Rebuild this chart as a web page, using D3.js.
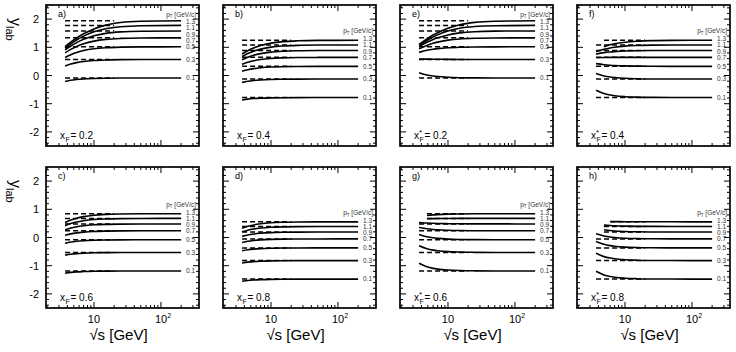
<!DOCTYPE html>
<html><head><meta charset="utf-8">
<script src="https://cdn.jsdelivr.net/npm/d3@7"></script>
<style>
body{margin:0;background:#fff}
svg{display:block}
text{font-family:"Liberation Sans",Arial,Helvetica,sans-serif}
</style>
</head><body>
<svg id="c" width="736" height="352"></svg>
<script>
// ---------------- data ----------------
const ptValues = [0.1, 0.3, 0.5, 0.7, 0.9, 1.1, 1.3];
const ptLabels = ["0.1", "0.3", "0.5", "0.7", "0.9", "1.1", "1.3"];
const sqrtS = [3.7, 4.5, 5.5, 7, 10, 15, 25, 50, 200];       // panels a-d
const sqrtSStar = [3.7, 4.85, 6, 7, 10, 15, 25, 50, 200];   // panels e-h
const dashEnd = 20;
const xTickLabels = ["10", "10²"];
const yTickLabels = ["-2", "-1", "0", "1", "2"];

// y_lab vs sqrt(s), one row per pT (0.1 ... 1.3)
const yLabA = [
  [-0.210, -0.169, -0.143, -0.122, -0.105, -0.096, -0.091, -0.089, -0.089],
  [0.338, 0.407, 0.457, 0.497, 0.532, 0.552, 0.562, 0.566, 0.567],
  [0.638, 0.738, 0.816, 0.884, 0.948, 0.985, 1.006, 1.015, 1.017],
  [0.803, 0.927, 1.029, 1.124, 1.219, 1.280, 1.315, 1.331, 1.336],
  [0.905, 1.046, 1.166, 1.283, 1.409, 1.495, 1.547, 1.571, 1.579],
  [0.973, 1.126, 1.261, 1.396, 1.548, 1.658, 1.729, 1.764, 1.776],
  [1.021, 1.184, 1.329, 1.479, 1.653, 1.786, 1.878, 1.924, 1.940]
];
const yLabB = [
  [-0.867, -0.837, -0.818, -0.804, -0.793, -0.787, -0.783, -0.782, -0.782],
  [-0.244, -0.204, -0.178, -0.158, -0.141, -0.133, -0.128, -0.126, -0.126],
  [0.148, 0.204, 0.243, 0.273, 0.299, 0.313, 0.321, 0.324, 0.325],
  [0.394, 0.467, 0.521, 0.565, 0.604, 0.625, 0.637, 0.641, 0.643],
  [0.558, 0.649, 0.718, 0.776, 0.830, 0.861, 0.877, 0.884, 0.887],
  [0.675, 0.780, 0.863, 0.936, 1.005, 1.047, 1.070, 1.080, 1.084],
  [0.761, 0.879, 0.974, 1.061, 1.147, 1.200, 1.230, 1.244, 1.249]
];
const yLabC = [
  [-1.265, -1.238, -1.220, -1.208, -1.197, -1.192, -1.189, -1.188, -1.187],
  [-0.624, -0.592, -0.571, -0.556, -0.543, -0.537, -0.533, -0.532, -0.531],
  [-0.203, -0.162, -0.135, -0.114, -0.097, -0.088, -0.083, -0.082, -0.081],
  [0.076, 0.128, 0.164, 0.191, 0.215, 0.227, 0.234, 0.237, 0.238],
  [0.273, 0.337, 0.382, 0.419, 0.450, 0.467, 0.476, 0.480, 0.481],
  [0.419, 0.495, 0.550, 0.596, 0.637, 0.659, 0.671, 0.676, 0.678],
  [0.530, 0.618, 0.683, 0.739, 0.790, 0.819, 0.834, 0.841, 0.843]
];
const yLabD = [
  [-1.550, -1.524, -1.507, -1.494, -1.484, -1.479, -1.476, -1.475, -1.475],
  [-0.903, -0.874, -0.855, -0.841, -0.829, -0.824, -0.821, -0.819, -0.819],
  [-0.470, -0.435, -0.413, -0.396, -0.382, -0.374, -0.371, -0.369, -0.369],
  [-0.175, -0.134, -0.106, -0.085, -0.067, -0.057, -0.053, -0.051, -0.050],
  [0.039, 0.089, 0.123, 0.150, 0.172, 0.184, 0.190, 0.193, 0.194],
  [0.201, 0.260, 0.302, 0.335, 0.363, 0.378, 0.386, 0.389, 0.390],
  [0.329, 0.397, 0.446, 0.486, 0.521, 0.540, 0.550, 0.554, 0.555]
];
const yLabE = [
  [0.100, 0.020, -0.019, -0.038, -0.064, -0.078, -0.085, -0.088, -0.089],
  [0.581, 0.580, 0.578, 0.576, 0.572, 0.569, 0.568, 0.568, 0.567],
  [0.820, 0.893, 0.932, 0.953, 0.984, 1.002, 1.012, 1.016, 1.018],
  [0.945, 1.068, 1.141, 1.183, 1.253, 1.297, 1.322, 1.332, 1.336],
  [1.020, 1.177, 1.275, 1.335, 1.439, 1.510, 1.553, 1.573, 1.580],
  [1.069, 1.249, 1.367, 1.441, 1.575, 1.673, 1.736, 1.766, 1.777],
  [1.104, 1.301, 1.434, 1.518, 1.678, 1.800, 1.884, 1.926, 1.942]
];
const yLabF = [
  [-0.524, -0.642, -0.693, -0.718, -0.751, -0.768, -0.777, -0.781, -0.782],
  [0.070, -0.015, -0.054, -0.073, -0.100, -0.114, -0.122, -0.125, -0.126],
  [0.420, 0.384, 0.365, 0.355, 0.340, 0.331, 0.327, 0.325, 0.325],
  [0.627, 0.638, 0.641, 0.642, 0.643, 0.643, 0.643, 0.643, 0.643],
  [0.758, 0.810, 0.835, 0.848, 0.868, 0.878, 0.884, 0.886, 0.887],
  [0.849, 0.932, 0.978, 1.003, 1.042, 1.064, 1.077, 1.082, 1.084],
  [null, 1.023, 1.087, 1.123, 1.181, 1.217, 1.237, 1.245, 1.249]
];
const yLabG = [
  [-0.915, -1.041, -1.095, -1.121, -1.155, -1.173, -1.182, -1.186, -1.187],
  [-0.290, -0.398, -0.447, -0.470, -0.502, -0.518, -0.526, -0.530, -0.531],
  [0.107, 0.027, -0.011, -0.030, -0.056, -0.070, -0.077, -0.080, -0.081],
  [0.357, 0.311, 0.286, 0.273, 0.256, 0.246, 0.241, 0.238, 0.238],
  [0.526, 0.513, 0.504, 0.498, 0.490, 0.485, 0.483, 0.482, 0.481],
  [null, 0.664, 0.670, 0.672, 0.676, 0.677, 0.678, 0.678, 0.678],
  [null, 0.780, 0.802, 0.812, 0.828, 0.836, 0.841, 0.842, 0.843]
];
const yLabH = [
  [-1.198, -1.326, -1.381, -1.408, -1.443, -1.461, -1.470, -1.474, -1.475],
  [-0.559, -0.678, -0.730, -0.755, -0.788, -0.805, -0.814, -0.818, -0.819],
  [-0.142, -0.242, -0.288, -0.310, -0.340, -0.356, -0.364, -0.367, -0.369],
  [0.132, 0.055, 0.018, 0.000, -0.026, -0.039, -0.046, -0.049, -0.050],
  [null, 0.273, 0.246, 0.232, 0.213, 0.202, 0.197, 0.195, 0.194],
  [null, 0.439, 0.424, 0.415, 0.403, 0.396, 0.393, 0.391, 0.390],
  [null, null, 0.567, 0.564, 0.560, 0.558, 0.556, 0.556, 0.555]
];
// asymptotic (dashed) levels per x_F, one per pT
const asym02 = [-0.089, 0.567, 1.018, 1.336, 1.580, 1.777, 1.942];
const asym04 = [-0.782, -0.126, 0.325, 0.643, 0.887, 1.084, 1.249];
const asym06 = [-1.187, -0.531, -0.081, 0.238, 0.481, 0.678, 0.843];
const asym08 = [-1.475, -0.819, -0.369, -0.050, 0.194, 0.390, 0.555];

const panels = [
  {id: "a)", col: 0, row: 0, xf: "0.2", star: false, grid: sqrtS, ys: yLabA, asym: asym02},
  {id: "b)", col: 1, row: 0, xf: "0.4", star: false, grid: sqrtS, ys: yLabB, asym: asym04},
  {id: "c)", col: 0, row: 1, xf: "0.6", star: false, grid: sqrtS, ys: yLabC, asym: asym06},
  {id: "d)", col: 1, row: 1, xf: "0.8", star: false, grid: sqrtS, ys: yLabD, asym: asym08},
  {id: "e)", col: 2, row: 0, xf: "0.2", star: true, grid: sqrtSStar, ys: yLabE, asym: asym02},
  {id: "f)", col: 3, row: 0, xf: "0.4", star: true, grid: sqrtSStar, ys: yLabF, asym: asym04},
  {id: "g)", col: 2, row: 1, xf: "0.6", star: true, grid: sqrtSStar, ys: yLabG, asym: asym06},
  {id: "h)", col: 3, row: 1, xf: "0.8", star: true, grid: sqrtSStar, ys: yLabH, asym: asym08}
];

// ---------------- layout ----------------
const colX = [46, 223, 400, 577];
const rowY = [5, 167];
const pw = 153, ph = 141;
const svg = d3.select("#c");
const x = d3.scaleLog().domain([1.92, 370]).range([0, pw]);
const y = d3.scaleLinear().domain([-2.5, 2.5]).range([ph, 0]);

const line = d3.line()
  .defined(d => d[1] != null)
  .x(d => x(d[0])).y(d => y(d[1]))
  .curve(d3.curveMonotoneX);

const xMinor = [];
for (const dec of [1, 10, 100]) for (let k = 2; k <= 9; k++) { const v = k * dec; if (v > 1.92 && v < 370) xMinor.push(v); }
const xMajor = [10, 100];
const yMinor = d3.range(-2.4, 2.45, 0.2).map(v => +v.toFixed(1));
const yMajor = [-2, -1, 0, 1, 2];

// spread label positions so they don't collide (screen y, top first)
function spread(pos, gap, minTop) {
  const p = pos.slice();
  for (let it = 0; it < 200; it++) {
    let moved = false;
    for (let k = 0; k < p.length - 1; k++) {
      const d = p[k + 1] - p[k];
      if (d < gap) { const s = (gap - d) / 2; p[k] -= s; p[k + 1] += s; moved = true; }
    }
    if (p[0] < minTop) { const s = minTop - p[0]; p[0] += s; moved = true; }
    if (!moved) break;
  }
  return p;
}

panels.forEach(p => {
  const g = svg.append("g").attr("transform", `translate(${colX[p.col]},${rowY[p.row]})`);
  // ticks
  const tk = g.append("g").attr("stroke", "#000").attr("stroke-width", 1);
  xMinor.forEach(v => {
    tk.append("line").attr("x1", x(v)).attr("x2", x(v)).attr("y1", ph).attr("y2", ph - 3);
    tk.append("line").attr("x1", x(v)).attr("x2", x(v)).attr("y1", 0).attr("y2", 3);
  });
  xMajor.forEach(v => {
    tk.append("line").attr("x1", x(v)).attr("x2", x(v)).attr("y1", ph).attr("y2", ph - 6);
    tk.append("line").attr("x1", x(v)).attr("x2", x(v)).attr("y1", 0).attr("y2", 6);
  });
  yMinor.forEach(v => {
    const L = yMajor.includes(v) ? 6 : 3;
    tk.append("line").attr("x1", 0).attr("x2", L).attr("y1", y(v)).attr("y2", y(v));
    tk.append("line").attr("x1", pw).attr("x2", pw - L).attr("y1", y(v)).attr("y2", y(v));
  });
  // frame
  g.append("rect").attr("width", pw).attr("height", ph)
    .attr("fill", "none").attr("stroke", "#000").attr("stroke-width", 1.7);

  // dashed asymptotes and solid curves
  p.ys.forEach((row, i) => {
    const pts = p.grid.map((s, j) => [s, row[j]]);
    const first = pts.find(d => d[1] != null);
    g.append("line")
      .attr("x1", x(first[0])).attr("x2", x(dashEnd))
      .attr("y1", y(p.asym[i])).attr("y2", y(p.asym[i]))
      .attr("stroke", "#000").attr("stroke-width", 1.5)
      .attr("stroke-dasharray", "5,3");
    g.append("path").attr("d", line(pts))
      .attr("fill", "none").attr("stroke", "#000").attr("stroke-width", 1.6);
  });
  // right-hand pT labels (top = 1.3 first)
  const order = [6, 5, 4, 3, 2, 1, 0];
  const want = order.map(i => y(p.asym[i]));
  const got = spread(want, 6.2, 17);
  order.forEach((i, k) => {
    g.append("text")
      .attr("x", x(200) + 5).attr("y", got[k] + 2.2)
      .attr("font-size", 6.5).attr("fill", "#333").text(ptLabels[i]);
  });
  // pT header just above the top label
  const hy = got[0] - 5.5;
  const ht = g.append("text").attr("x", pw - 3).attr("y", hy)
    .attr("text-anchor", "end").attr("font-size", 6.5).attr("fill", "#333");
  ht.append("tspan").text("p");
  ht.append("tspan").attr("font-size", 4.5).attr("dy", 1.5).text("T");
  ht.append("tspan").attr("dy", -1.5).text(" [GeV/c]");

  // panel letter
  g.append("text").attr("x", 12).attr("y", 12).attr("font-size", 9).text(p.id);

  // x_F label
  const lx = 14, ly = ph - 7;
  g.append("text").attr("x", lx).attr("y", ly).attr("font-size", 10).text("x");
  g.append("text").attr("x", lx + 5.5).attr("y", ly + 2.5).attr("font-size", 7).text("F");
  if (p.star) g.append("text").attr("x", lx + 5).attr("y", ly - 4).attr("font-size", 8).text("*");
  g.append("text").attr("x", lx + 10.5).attr("y", ly).attr("font-size", 10).text("= " + p.xf);

  // axis tick labels
  if (p.col === 0) {
    yMajor.forEach((v, k) => {
      g.append("text").attr("x", -7).attr("y", y(v) + 4).attr("text-anchor", "end")
        .attr("font-size", 11).text(yTickLabels[k]);
    });
  }
  if (p.row === 1) {
    g.append("text").attr("x", x(10)).attr("y", ph + 15).attr("text-anchor", "middle")
      .attr("font-size", 11).text(xTickLabels[0]);
    const t2 = g.append("text").attr("x", x(100) - 6).attr("y", ph + 15).attr("font-size", 11);
    t2.append("tspan").text("10");
    t2.append("tspan").attr("font-size", 7).attr("dy", -5).text("2");
    // x axis title
    g.append("text").attr("x", pw / 2 - 4).attr("y", ph + 32).attr("text-anchor", "middle")
      .attr("font-size", 15).text("√s [GeV]");
  }
});

// y axis titles ("y" on top, "lab" below, read top to bottom)
rowY.forEach(r => {
  const t = svg.append("text").attr("transform", `translate(10,${r + 13}) rotate(90)`)
    .attr("text-anchor", "start").attr("font-size", 16);
  t.append("tspan").text("y");
  t.append("tspan").attr("font-size", 11).attr("dy", 4).text("lab");
});
</script>
</body></html>
